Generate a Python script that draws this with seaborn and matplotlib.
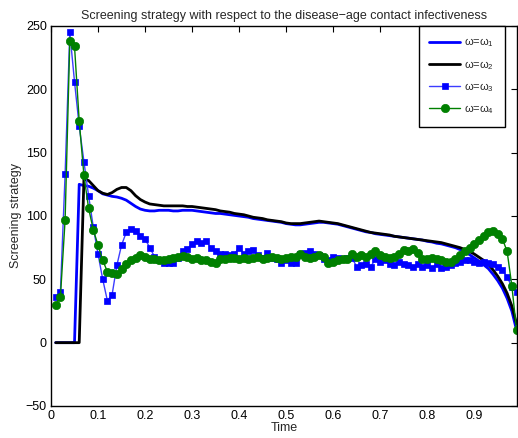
import numpy as np
import pandas as pd
import matplotlib
matplotlib.use("Agg")
import matplotlib.pyplot as plt
import seaborn as sns

time = np.round(np.arange(1, 100) / 100, 2)

w1 = [0, 0, 0, 0, 0, 125, 124, 123.5, 122, 120,
      117.5, 116.5, 115.5, 115, 114, 112.5, 110, 107.5, 105.5, 104.5,
      104, 104, 104.5, 104.5, 104.5, 104, 104, 104.5, 104.5, 104.5,
      104, 103.5, 103, 102.5, 102, 102, 101.5, 101, 100.5, 100,
      99.5, 99, 98, 97.5, 97, 96.5, 96, 95.5, 95, 94,
      93.5, 93, 93, 93.5, 94, 94.5, 95, 95, 94.5, 94,
      93.5, 92.5, 91.5, 90.5, 89.5, 88.5, 87.5, 87, 86, 85.5,
      85, 84.5, 84, 83.5, 83, 82.5, 82, 81.5, 81, 80,
      79.5, 78.5, 78, 77, 76, 75, 73.5, 71.5, 69.5, 67,
      64.5, 61.5, 58.5, 54, 49, 43, 35, 25, 10]

w2 = [0, 0, 0, 0, 0, 0, 129, 128, 124, 120,
      118, 117, 118.5, 121, 122.5, 122.5, 120, 116, 113, 111,
      109.5, 109, 108.5, 108, 108, 108, 108, 108, 107.5, 107.5,
      107, 106.5, 106, 105.5, 105, 104, 103.5, 103, 102, 101.5,
      101, 100, 99, 98.5, 98, 97, 96.5, 96, 95.5, 94.5,
      94, 94, 94, 94.5, 95, 95.5, 96, 95.5, 95, 94.5,
      94, 93, 92, 91, 90, 89, 88, 87, 86.5, 86,
      85.5, 85, 84, 83.5, 83, 82.5, 82, 81.5, 81, 80.5,
      80, 79.5, 79, 78, 77, 76, 75, 73.5, 72, 70,
      67.5, 65, 62, 57.5, 52.5, 46.5, 39, 29, 15]

w3 = [36, 40, 133, 245, 206, 171, 143, 116, 91, 70,
      50, 33, 38, 61, 77, 87, 90, 88, 84, 82,
      75, 68, 65, 63, 63, 63, 67, 72, 74, 78,
      80, 79, 80, 75, 72, 70, 70, 69, 70, 75,
      70, 72, 73, 69, 67, 71, 67, 66, 63, 65,
      63, 63, 70, 71, 72, 70, 69, 66, 65, 68,
      67, 66, 67, 67, 60, 61, 62, 60, 66, 64,
      65, 62, 61, 64, 62, 61, 60, 62, 60, 61,
      59, 62, 59, 60, 61, 63, 64, 65, 65, 64,
      63, 64, 63, 62, 60, 57, 52, 44, 40]

w4 = [30, 36, 97, 238, 234, 175, 132, 106, 89, 77,
      65, 56, 55, 54, 58, 62, 65, 67, 69.5, 68,
      66, 66, 65.5, 65.5, 66, 67, 68, 68.5, 68, 66,
      67, 65, 65, 64, 63, 66, 66, 67, 67, 66,
      67, 66, 67, 68, 66, 67, 68, 67, 66, 67,
      68, 68, 70, 68, 67, 68, 69, 68, 63, 64,
      65, 66, 66, 70, 68, 69, 68, 70, 72, 69,
      68, 67, 68, 70, 73, 72, 74, 71, 66, 66,
      67, 66, 65, 64, 64, 66, 69, 72, 75, 78,
      81, 84, 87, 88, 86, 82, 72, 45, 10]

labels = [r"ω=ω$_{1}$", r"ω=ω$_{2}$", r"ω=ω$_{3}$", r"ω=ω$_{4}$"]
xticks = [0, 0.1, 0.2, 0.3, 0.4, 0.5, 0.6, 0.7, 0.8, 0.9]
xticklabels = ["0", "0.1", "0.2", "0.3", "0.4", "0.5", "0.6", "0.7", "0.8", "0.9"]
yticks = [-50, 0, 50, 100, 150, 200, 250]

df = pd.DataFrame({"time": time, "w1": w1, "w2": w2, "w3": w3, "w4": w4})

sns.set_style("white")
plt.rcParams["font.family"] = ["Liberation Sans", "DejaVu Sans"]
plt.rcParams["mathtext.fontset"] = "custom"
plt.rcParams["mathtext.rm"] = "Liberation Sans"
plt.rcParams["mathtext.default"] = "regular"
plt.rcParams["axes.unicode_minus"] = True

fig = plt.figure(figsize=(5.18, 4.38), dpi=100)
ax = fig.add_axes([51 / 518, 1 - 406 / 438, 466 / 518, 380 / 438])

sns.lineplot(data=df, x="time", y="w1", ax=ax, color="#0000ff", linewidth=2.0,
             label=labels[0], estimator=None, sort=False)
sns.lineplot(data=df, x="time", y="w2", ax=ax, color="black", linewidth=2.0,
             label=labels[1], estimator=None, sort=False)
sns.lineplot(data=df, x="time", y="w3", ax=ax, color="#3c3cff", linewidth=1.0,
             marker="s", markersize=5.0, markerfacecolor="#0000ff",
             markeredgecolor="#0000ff", markeredgewidth=0.5,
             label=labels[2], estimator=None, sort=False)
sns.lineplot(data=df, x="time", y="w4", ax=ax, color="#008000", linewidth=1.0,
             marker="o", markersize=6.0, markerfacecolor="#008000",
             markeredgecolor="#008000", markeredgewidth=0.5,
             label=labels[3], estimator=None, sort=False)

ax.set_xlim(0, 0.991)
ax.set_ylim(-50, 250)
ax.set_xticks(xticks)
ax.set_xticklabels(xticklabels)
ax.set_yticks(yticks)
ax.tick_params(direction="in", length=4, width=0.8, top=True, right=True,
               labelsize=9, colors="black", pad=3)
for s in ax.spines.values():
    s.set_color("black")
    s.set_linewidth(1.0)

ax.set_title("Screening strategy with respect to the disease\u2212age contact infectiveness",
             fontsize=9, pad=5)
ax.set_xlabel("Time", fontsize=9, labelpad=0)
ax.set_ylabel("Screening strategy", fontsize=9, labelpad=3)

leg = ax.legend(loc="upper right", bbox_to_anchor=(0.974, 1.0), borderaxespad=0,
                fontsize=8, frameon=True, fancybox=False, framealpha=1,
                handlelength=2.8, labelspacing=0.85, borderpad=0.95, handletextpad=0.35)
leg.get_frame().set_edgecolor("black")
leg.get_frame().set_linewidth(1.0)

fig.savefig("out.png", dpi=100)
